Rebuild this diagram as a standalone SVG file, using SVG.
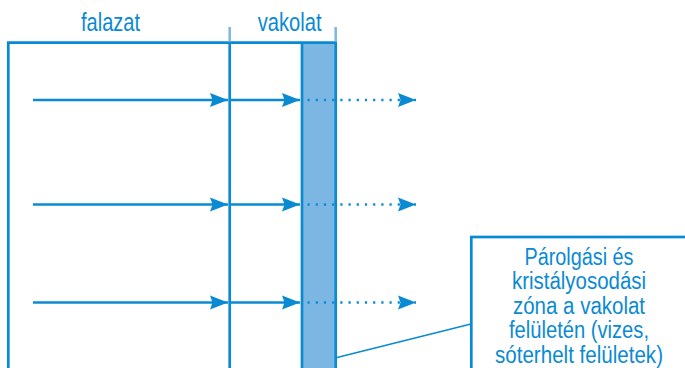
<svg xmlns="http://www.w3.org/2000/svg" width="685" height="368" viewBox="0 0 685 368">
<style>
.ln{stroke:#0a8ad3;stroke-width:2.7;fill:none}
.tick{stroke:#7cb7e3;stroke-width:2.5;fill:none}
.arr{stroke:#0a8ad3;stroke-width:2.6;fill:none}
.dot{stroke:#0a8ad3;stroke-width:2.4;fill:none;stroke-dasharray:2.2 6}
.t{font-family:"Liberation Sans",Arial,sans-serif;fill:#0a8ad3;text-anchor:middle}
.h{font-size:25px}
.b{font-size:23px}
</style>
<defs>
<marker id="ah" markerUnits="userSpaceOnUse" markerWidth="19" markerHeight="15" refX="18" refY="7.5" orient="auto" viewBox="0 0 19 15">
<path d="M0,0.5 L18,7.5 L0,14.5 L2.5,7.5 z" fill="#0a8ad3"/>
</marker>
</defs>
<rect width="685" height="368" fill="#ffffff"/>
<g id="wall">
<rect x="302" y="42.7" width="33.7" height="330" fill="#7cb7e3"/>
<line class="ln" x1="302" y1="42.7" x2="302" y2="372"/>
<path class="ln" d="M8.3,372 V42.7 H337"/>
<line class="ln" x1="229.7" y1="42" x2="229.7" y2="372"/>
<line class="ln" x1="335.7" y1="42" x2="335.7" y2="372"/>
<line class="tick" x1="229.7" y1="27" x2="229.7" y2="41.5"/>
<line class="tick" x1="335.7" y1="27" x2="335.7" y2="41.5"/>
</g>
<g id="labels">
<text class="t h" x="110.5" y="31" textLength="59" lengthAdjust="spacingAndGlyphs">falazat</text>
<text class="t h" x="289.7" y="31" textLength="64" lengthAdjust="spacingAndGlyphs">vakolat</text>
</g>
<g id="connectors">
<line class="arr" x1="33" y1="100" x2="228" y2="100" marker-end="url(#ah)"/>
<line class="arr" x1="231" y1="100" x2="300" y2="100" marker-end="url(#ah)"/>
<line class="dot" x1="307.5" y1="100" x2="416" y2="100" marker-end="url(#ah)"/>
<line class="arr" x1="33" y1="204.5" x2="228" y2="204.5" marker-end="url(#ah)"/>
<line class="arr" x1="231" y1="204.5" x2="300" y2="204.5" marker-end="url(#ah)"/>
<line class="dot" x1="307.5" y1="204.5" x2="416" y2="204.5" marker-end="url(#ah)"/>
<line class="arr" x1="33" y1="302.5" x2="228" y2="302.5" marker-end="url(#ah)"/>
<line class="arr" x1="231" y1="302.5" x2="300" y2="302.5" marker-end="url(#ah)"/>
<line class="dot" x1="307.5" y1="302.5" x2="416" y2="302.5" marker-end="url(#ah)"/>
<line x1="337" y1="357.5" x2="471" y2="324" stroke="#0a8ad3" stroke-width="1.6"/>
</g>
<g id="note">
<rect x="471.3" y="237" width="222" height="140" fill="#ffffff" stroke="#0a8ad3" stroke-width="2.7"/>
<text class="t b" x="579" y="264.5" textLength="109" lengthAdjust="spacingAndGlyphs">Párolgási és</text>
<text class="t b" x="579" y="289" textLength="134" lengthAdjust="spacingAndGlyphs">kristályosodási</text>
<text class="t b" x="579" y="313.5" textLength="132" lengthAdjust="spacingAndGlyphs">zóna a vakolat</text>
<text class="t b" x="579" y="338" textLength="140" lengthAdjust="spacingAndGlyphs">felületén (vizes,</text>
<text class="t b" x="579" y="362.5" textLength="168" lengthAdjust="spacingAndGlyphs">sóterhelt felületek)</text>
</g>
</svg>
